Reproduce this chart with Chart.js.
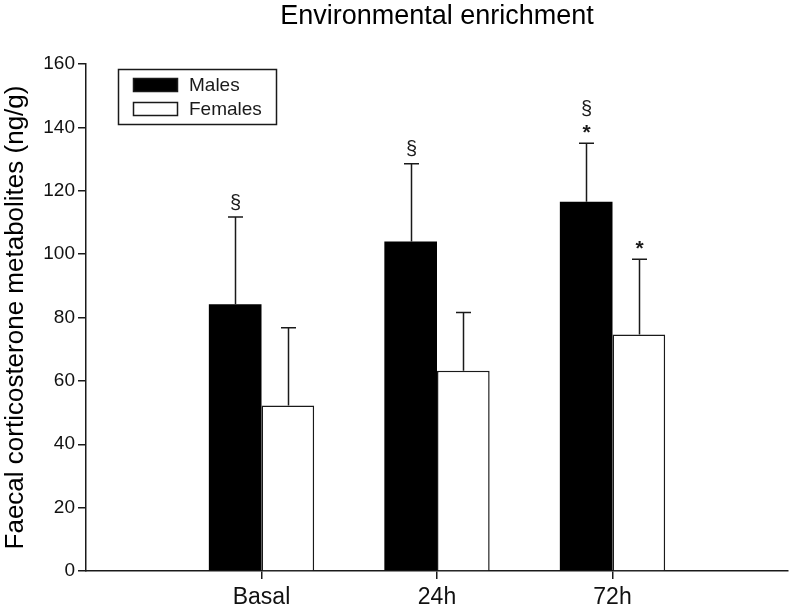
<!DOCTYPE html>
<html>
<head>
<meta charset="utf-8">
<script src="https://cdn.jsdelivr.net/npm/chart.js@4/dist/chart.umd.min.js"></script>
<style>
  html, body { margin: 0; padding: 0; background: #fff; }
  #wrap { width: 793px; height: 611px; }
</style>
</head>
<body>
<div id="wrap"><canvas id="c" width="793" height="611"></canvas></div>
<script>
// ---- data ----
const categories = ['', 'Basal', '24h', '72h', ''];
const seriesNames = ['Males', 'Females'];
const males = [null, 84.2, 104.0, 116.5, null];
const malesErr = [null, 27.5, 24.5, 18.5, null];
const females = [null, 52.2, 63.2, 74.6, null];
const femalesErr = [null, 24.6, 18.4, 23.8, null];
const malesMarks = [[], ['§'], ['§'], ['§', '*'], []];
const femalesMarks = [[], [], [], ['*'], []];
const yTicks = [0, 20, 40, 60, 80, 100, 120, 140, 160];
const titleText = 'Environmental enrichment';
const yTitle = 'Faecal corticosterone metabolites (ng/g)';

const FONT = "'Liberation Sans', Arial, Helvetica, sans-serif";
const INK = '#1a1a1a';
const errs = [malesErr, femalesErr];
const marks = [malesMarks, femalesMarks];

const errorBarPlugin = {
  id: 'errorBars',
  afterDatasetsDraw(chart) {
    const ctx = chart.ctx;
    const y = chart.scales.y;
    ctx.save();
    ctx.strokeStyle = INK;
    ctx.lineWidth = 1.5;
    chart.data.datasets.forEach((ds, i) => {
      const meta = chart.getDatasetMeta(i);
      ds.data.forEach((v, j) => {
        if (v === null) return;
        const bar = meta.data[j];
        const x = Math.round(bar.x) + 0.5;
        const y0 = y.getPixelForValue(v);
        const y1 = y.getPixelForValue(v + errs[i][j]);
        ctx.beginPath();
        ctx.moveTo(x, y0);
        ctx.lineTo(x, y1);
        ctx.moveTo(x - 7.5, y1);
        ctx.lineTo(x + 7.5, y1);
        ctx.stroke();
        // significance marks, stacked upward from the cap
        const m = marks[i][j];
        ctx.fillStyle = INK;
        ctx.textAlign = 'center';
        ctx.textBaseline = 'middle';
        let yy = y1 - 14;
        for (let k = m.length - 1; k >= 0; k--) {
          const s = m[k];
          ctx.font = (s === '*' ? 'bold 21px ' : '20px ') + FONT;
          ctx.fillText(s, x, s === '*' ? yy + 4 : yy);
          yy -= 20;
        }
      });
    });
    ctx.restore();
  }
};

const legendPlugin = {
  id: 'boxLegend',
  afterDraw(chart) {
    const ctx = chart.ctx;
    const ca = chart.chartArea;
    const bx = ca.left + 32, by = ca.top + 5, bw = 158, bh = 55;
    ctx.save();
    ctx.strokeStyle = INK;
    ctx.lineWidth = 1.5;
    ctx.fillStyle = '#fff';
    ctx.fillRect(bx, by, bw, bh);
    ctx.strokeRect(bx + 0.5, by + 0.5, bw, bh);
    chart.data.datasets.forEach((ds, i) => {
      const sy = by + 9 + i * 24;
      ctx.fillStyle = ds.backgroundColor;
      ctx.fillRect(bx + 15, sy, 45, 14);
      ctx.lineWidth = 1.5;
      ctx.strokeStyle = INK;
      ctx.strokeRect(bx + 15.5, sy + 0.5, 44, 13);
      ctx.fillStyle = INK;
      ctx.font = '19px ' + FONT;
      ctx.textAlign = 'left';
      ctx.textBaseline = 'middle';
      ctx.fillText(ds.label, bx + 71, sy + 7.5);
    });
    ctx.restore();
  }
};

const titleCenterPlugin = {
  id: 'titleCenter',
  afterLayout(chart) {
    if (chart.titleBlock) {
      chart.titleBlock.left = chart.chartArea.left;
      chart.titleBlock.right = chart.chartArea.right;
    }
  }
};

new Chart(document.getElementById('c'), {
  type: 'bar',
  data: {
    labels: categories,
    datasets: [
      { label: seriesNames[0], data: males, backgroundColor: '#000000', borderColor: '#000000', borderWidth: 0 },
      { label: seriesNames[1], data: females, backgroundColor: '#ffffff', borderColor: INK, borderWidth: 1.5, borderSkipped: 'bottom' }
    ]
  },
  options: {
    responsive: false,
    animation: false,
    devicePixelRatio: 1,
    datasets: { bar: { categoryPercentage: 0.6, barPercentage: 1.0 } },
    layout: { padding: { left: 0, right: 3, top: 0, bottom: 0 } },
    plugins: {
      legend: { display: false },
      tooltip: { enabled: false },
      title: {
        display: true,
        text: titleText,
        color: '#000',
        font: { family: FONT, size: 27, weight: 'normal', lineHeight: 1.2 },
        padding: { top: 0, bottom: 31.6 }
      }
    },
    scales: {
      x: {
        type: 'category',
        offset: false,
        afterFit(s) { s.height = 40; },
        border: { display: true, color: INK, width: 1.5 },
        grid: {
          display: true,
          offset: false,
          drawOnChartArea: false,
          drawTicks: true,
          tickLength: 8,
          lineWidth: 1.5,
          color: (c) => (c.index === 0 || c.index === categories.length - 1) ? 'rgba(0,0,0,0)' : INK
        },
        ticks: {
          color: '#111',
          font: { family: FONT, size: 23 },
          padding: 5,
          maxRotation: 0,
          autoSkip: false
        }
      },
      y: {
        min: 0,
        max: 160,
        afterFit(s) { s.width = 86; },
        afterBuildTicks(s) { s.ticks = yTicks.map(v => ({ value: v })); },
        border: { display: true, color: INK, width: 1.5 },
        grid: {
          display: true,
          drawOnChartArea: false,
          drawTicks: true,
          tickLength: 8,
          lineWidth: 1.5,
          color: INK
        },
        ticks: {
          color: '#111',
          font: { family: FONT, size: 19 },
          padding: 3
        },
        title: {
          display: true,
          text: yTitle,
          color: '#000',
          font: { family: FONT, size: 26, lineHeight: 1.2 },
          padding: { top: 0, bottom: 0 }
        }
      }
    }
  },
  plugins: [errorBarPlugin, legendPlugin, titleCenterPlugin]
});
</script>
</body>
</html>
